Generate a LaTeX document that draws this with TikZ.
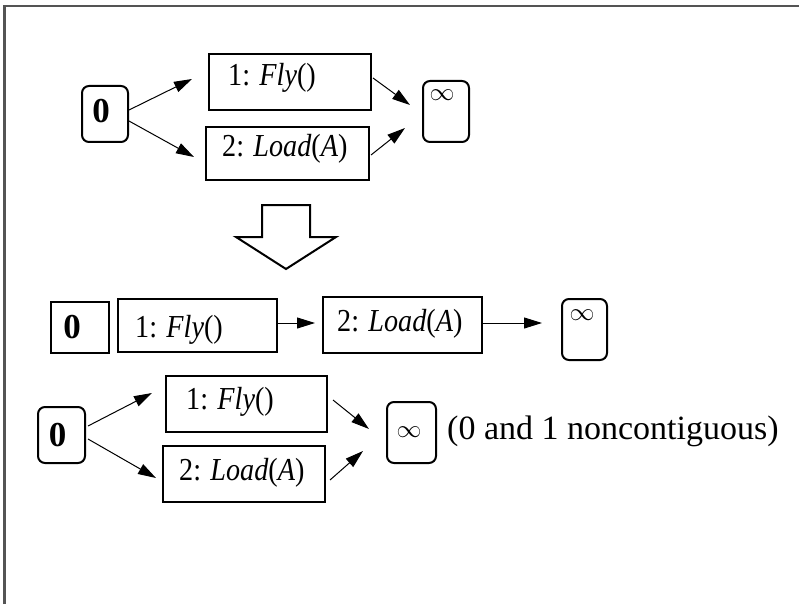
\documentclass[tikz,border=0pt]{standalone}
\usepackage{fontspec}
\setmainfont{Liberation Serif}
\usetikzlibrary{arrows.meta,calc}
\newcommand\lblsize{\fontsize{32}{33}\selectfont}
\newcommand\zerosize{\fontsize{35}{36}\selectfont\bfseries}
\newcommand\infsize{\fontsize{26}{27}\selectfont}
\newcommand\narrow[1]{\scalebox{0.88}[1]{#1}}
\begin{document}
\begin{tikzpicture}[x=1pt,y=-1pt,
  bx/.style n args={2}{draw, line width=2pt, inner sep=0pt, minimum width=#1pt, minimum height=#2pt},
  rbx/.style n args={2}{bx={#1}{#2}, rounded corners=7pt},
  lbl/.style={inner sep=0pt, anchor=base west, font=\lblsize},
  zero/.style={inner sep=0pt, font=\zerosize},
  inf/.style={inner sep=0pt, font=\infsize},
  arr/.style={-{Triangle[length=18pt,width=11pt]}, line width=1pt},
  frame/.style={draw=black!67, line width=2.2pt}
]
\useasboundingbox (0,0) rectangle (799,604);
\draw[frame] (4.5,604) -- (4.5,6) -- (799,6);

% ---------- top diagram ----------
\node[rbx={46}{56}] (t0) at (105,114) {};
\node[zero] (t0t) at (101,111) {0};
\node[bx={162}{56}] (t1) at (290,82) {};
\node[lbl] (t1t) at (228,86) {\narrow{1: \textit{Fly}()}};
\node[bx={163}{53}] (t2) at (287.5,153.5) {};
\node[lbl] (t2t) at (222,157) {\narrow{2: \textit{Load}(\textit{A})}};
\node[rbx={46}{61}] (tinf) at (446,111.5) {};
\node[inf] (tinft) at (442,95) {$\infty$};
\draw[arr] ($(t0.east)+(0,-4)$) -- ($(t1.west)+(-16,-3)$);
\draw[arr] ($(t0.east)+(0,7)$) -- ($(t2.west)+(-11,3.5)$);
\draw[arr] ($(t1.east)+(1,-4)$) -- ($(tinf.west)+(-12,-6.5)$);
\draw[arr] ($(t2.east)+(1,1.5)$) -- ($(tinf.west)+(-17,16.5)$);

% ---------- hollow arrow ----------
\draw[line width=2pt, line join=miter] (262,205) -- (310,205) -- (310,237) -- (336,237)
  -- (286,269) -- (236,237) -- (262,237) -- cycle;

% ---------- middle row ----------
\node[bx={58}{51}] (m0) at (80,327.5) {};
\node[zero] (m0t) at (72,327) {0};
\node[bx={159}{53}] (m1) at (197.5,325.5) {};
\node[lbl] (m1t) at (135,337) {\narrow{1: \textit{Fly}()}};
\node[bx={159}{56}] (m2) at (402.5,325) {};
\node[lbl] (m2t) at (337,331) {\narrow{2: \textit{Load}(\textit{A})}};
\node[rbx={45}{61}] (minf) at (584.5,329.5) {};
\node[inf] (minft) at (582,315) {$\infty$};
\draw[arr] ($(m1.east)+(0,-2.5)$) -- ($(m2.west)+(-7,-2)$);
\draw[arr] ($(m2.east)+(0,-2)$) -- ($(minf.west)+(-19,-6.5)$);

% ---------- bottom diagram ----------
\node[rbx={47}{56}] (b0) at (61.5,435) {};
\node[zero] (b0t) at (57.5,435) {0};
\node[bx={161}{56}] (b1) at (246.5,404) {};
\node[lbl] (b1t) at (186,409) {\narrow{1: \textit{Fly}()}};
\node[bx={162}{56}] (b2) at (244,474) {};
\node[lbl] (b2t) at (179,480) {\narrow{2: \textit{Load}(\textit{A})}};
\node[rbx={49}{61}] (binf) at (411.5,432.5) {};
\node[inf] (binft) at (409,432) {$\infty$};
\node[inner sep=0pt, anchor=west, font=\fontsize{34}{35}\selectfont] (note) at (447,431) {(0 and 1 noncontiguous)};
\draw[arr] ($(b0.east)+(2,-9)$) -- ($(b1.west)+(-13,-11)$);
\draw[arr] ($(b0.east)+(2,4)$) -- ($(b2.west)+(-6,4)$);
\draw[arr] ($(b1.east)+(5,-4)$) -- ($(binf.west)+(-17,-3.5)$);
\draw[arr] ($(b2.east)+(4,6)$) -- ($(binf.west)+(-23,18.5)$);
\end{tikzpicture}
\end{document}
